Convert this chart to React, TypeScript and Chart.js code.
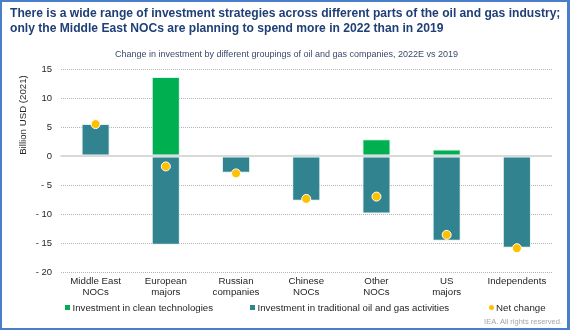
import React, { useEffect, useRef } from "react";
import { Chart, registerables } from "chart.js";

Chart.register(...registerables);

const categories: string[][] = [
  ["Middle East", "NOCs"],
  ["European", "majors"],
  ["Russian", "companies"],
  ["Chinese", "NOCs"],
  ["Other", "NOCs"],
  ["US", "majors"],
  ["Independents"],
];
const cleanTech = [0, 13.6, 0, 0.3, 2.9, 1.1, 0];
const traditional = [5.5, -15.3, -2.9, -7.7, -9.9, -14.6, -15.8];
const netChange = [5.5, -1.8, -3.0, -7.4, -7.0, -13.6, -15.9];
const yTicks = [15, 10, 5, 0, -5, -10, -15, -20];

const TITLE_LINES = [
  "There is a wide range of investment strategies across different parts of the oil and gas industry;",
  "only the Middle East NOCs are planning to spend more in 2022 than in 2019",
];
const SUBTITLE = "Change in investment by different groupings of oil and gas companies, 2022E vs 2019";
const Y_TITLE = "Billion USD (2021)";
const LEGEND = [
  { text: "Investment in clean technologies", color: "#00b050", shape: "rect", left: 65 },
  { text: "Investment in traditional oil and gas activities", color: "#31838f", shape: "rect", left: 250 },
  { text: "Net change", color: "#ffc000", shape: "circle", left: 488.5 },
];
const FONT = "'Liberation Sans', Arial, sans-serif";
const TEXT = "#262626";

const extras = {
  id: "extras",
  beforeDatasetsDraw(chart: any) {
    const y = chart.scales.y.getPixelForValue(0);
    const { left, right, top } = chart.chartArea;
    const ctx = chart.ctx;
    ctx.save();
    ctx.strokeStyle = "#d9d9d9";
    ctx.lineWidth = 2;
    ctx.beginPath();
    ctx.moveTo(left, y);
    ctx.lineTo(right, y);
    ctx.stroke();
    // y axis title
    ctx.translate(23, top + 46);
    ctx.rotate(-Math.PI / 2);
    ctx.fillStyle = TEXT;
    ctx.font = `9.7px ${FONT}`;
    ctx.textAlign = "center";
    ctx.textBaseline = "middle";
    ctx.fillText(Y_TITLE, 0, 0);
    ctx.restore();
  },
};

export default function App() {
  const ref = useRef<HTMLCanvasElement>(null);
  useEffect(() => {
    if (!ref.current) return;
    const barCommon = {
      borderColor: "rgba(220,240,238,0.9)",
      borderWidth: 1,
      borderSkipped: false,
      stack: "s",
      order: 1,
      categoryPercentage: 1,
      barPercentage: 0.4,
    };
    const chart = new Chart(ref.current, {
      type: "bar",
      data: {
        labels: categories,
        datasets: [
          {
            label: "Investment in clean technologies",
            data: cleanTech,
            backgroundColor: "#00b050",
            ...barCommon,
          } as any,
          {
            label: "Investment in traditional oil and gas activities",
            data: traditional,
            backgroundColor: "#31838f",
            ...barCommon,
          } as any,
          {
            type: "line" as any,
            label: "Net change",
            data: netChange,
            showLine: false,
            pointRadius: 4.5,
            pointBackgroundColor: "#ffc000",
            pointBorderColor: "#ffffff",
            pointBorderWidth: 1,
            backgroundColor: "#ffc000",
            borderColor: "#ffc000",
            stack: "net",
            order: 0,
          } as any,
        ],
      },
      options: {
        animation: false,
        responsive: false,
        maintainAspectRatio: false,
        layout: { padding: { top: 69, left: 0, right: 18, bottom: 28 } },
        plugins: {
          title: { display: false },
          legend: { display: false },
          tooltip: { enabled: false },
        },
        scales: {
          x: {
            stacked: true,
            grid: { display: false, drawTicks: false },
            border: { display: false },
            afterFit: (s: any) => {
              s.height = 30;
            },
            ticks: {
              color: TEXT,
              font: { family: FONT, size: 9.7, lineHeight: 1.14 },
              maxRotation: 0,
              autoSkip: false,
              padding: 4,
            },
          } as any,
          y: {
            stacked: true,
            min: -20,
            max: 15,
            afterFit: (s: any) => {
              s.width = 60.5;
            },
            afterBuildTicks: (scale: any) => {
              scale.ticks = yTicks.map((v) => ({ value: v }));
            },
            grid: {
              color: (c: any) => (c.tick && c.tick.value === 0 ? "rgba(0,0,0,0)" : "#b3b3b3"),
              lineWidth: 1,
              drawTicks: false,
            },
            border: { display: false, dash: [1, 1] },
            ticks: {
              color: TEXT,
              font: { family: FONT, size: 9.5 },
              padding: 8.5,
              callback: (v: any) => (Number(v) < 0 ? "- " + Math.abs(Number(v)) : String(v)),
            },
          },
        },
      },
      plugins: [extras],
    });
    return () => chart.destroy();
  }, []);

  return (
    <div
      style={{
        position: "fixed",
        left: 0,
        top: 0,
        width: 570,
        height: 330,
        background: "#fff",
        fontFamily: FONT,
        overflow: "hidden",
      }}
    >
      <canvas
        ref={ref}
        width={570}
        height={330}
        style={{ position: "absolute", left: 0, top: 0, width: 570, height: 330 }}
      />
      <div
        style={{
          position: "absolute",
          left: 10,
          top: 6,
          color: "#1f3f77",
          fontWeight: "bold",
          fontSize: 12.1,
          lineHeight: "14.5px",
          whiteSpace: "nowrap",
        }}
      >
        {TITLE_LINES.map((t, i) => (
          <div key={i}>{t}</div>
        ))}
      </div>
      <div
        style={{
          position: "absolute",
          left: 0,
          width: 573,
          top: 48,
          textAlign: "center",
          color: "#3b4a6b",
          fontSize: 9,
          lineHeight: "12px",
          whiteSpace: "nowrap",
        }}
      >
        {SUBTITLE}
      </div>
      {LEGEND.map((item, i) => (
        <div
          key={i}
          style={{
            position: "absolute",
            left: item.left,
            top: 301,
            height: 12,
            display: "flex",
            alignItems: "center",
            fontSize: 9.7,
            color: TEXT,
            whiteSpace: "nowrap",
          }}
        >
          <span
            style={{
              display: "inline-block",
              width: 5,
              height: 5,
              background: item.color,
              borderRadius: item.shape === "circle" ? "50%" : 0,
              marginRight: 2.5,
            }}
          />
          {item.text}
        </div>
      ))}
      <div
        style={{
          position: "absolute",
          right: 8,
          top: 317,
          fontSize: 7.5,
          lineHeight: "9px",
          color: "#a6a6a6",
          whiteSpace: "nowrap",
        }}
      >
        IEA. All rights reserved.
      </div>
      <div
        style={{
          position: "absolute",
          left: 0,
          top: 0,
          width: 570,
          height: 330,
          boxSizing: "border-box",
          borderStyle: "solid",
          borderColor: "#4a7ec8",
          borderWidth: "2px 3px 2px 2px",
          pointerEvents: "none",
        }}
      />
    </div>
  );
}
